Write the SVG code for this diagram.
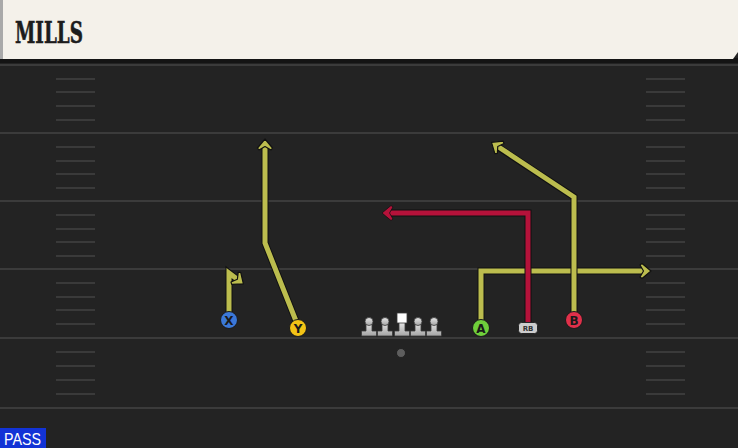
<svg xmlns="http://www.w3.org/2000/svg" width="738" height="448" viewBox="0 0 738 448">
<style>
.yl{stroke:#3b3b3b;stroke-width:2}
.hm{stroke:#3a3a3a;stroke-width:2}
.out{fill:none;stroke:#111;stroke-width:7;stroke-linejoin:miter}
.ry{fill:none;stroke:#bcbd4e;stroke-width:5;stroke-linejoin:miter}
.rr{fill:none;stroke:#b5123a;stroke-width:5;stroke-linejoin:miter}
.lbl{font-family:"DejaVu Sans","Liberation Sans",sans-serif;font-weight:bold;font-size:12px;fill:#1a1a1a;text-anchor:middle}
.pc{stroke:#1a1a1a;stroke-width:1}
.ol{stroke:#3a3a3a;stroke-width:0.8}
</style>
<defs>
<marker id="ay" markerUnits="userSpaceOnUse" markerWidth="24" markerHeight="24" viewBox="-12 -12 24 24" refX="0" refY="0" orient="auto">
<path d="M3,0 L-6,-7.5 L-8,-6 L-4.5,0 L-8,6 L-6,7.5 Z" fill="#bcbd4e" stroke="#111" stroke-width="1.2" stroke-linejoin="round"/>
</marker>
<marker id="ar" markerUnits="userSpaceOnUse" markerWidth="24" markerHeight="24" viewBox="-12 -12 24 24" refX="0" refY="0" orient="auto">
<path d="M3,0 L-6,-7.5 L-8,-6 L-4.5,0 L-8,6 L-6,7.5 Z" fill="#b5123a" stroke="#111" stroke-width="0.8" stroke-linejoin="round"/>
</marker>
<linearGradient id="lg" x1="0" y1="0" x2="0" y2="1">
<stop offset="0" stop-color="#e8e8e8"/><stop offset="1" stop-color="#a4a4a4"/>
</linearGradient>
</defs>
<rect x="0" y="0" width="738" height="448" fill="#232323"/>
<g id="field">
<line class="yl" x1="0" y1="65" x2="738" y2="65"/>
<line class="yl" x1="0" y1="133" x2="738" y2="133"/>
<line class="yl" x1="0" y1="201" x2="738" y2="201"/>
<line class="yl" x1="0" y1="269" x2="738" y2="269"/>
<line class="yl" x1="0" y1="338" x2="738" y2="338"/>
<line class="yl" x1="0" y1="408" x2="738" y2="408"/>
<path class="hm" d="M56,79H95M56,92H95M56,106H95M56,120H95M56,147H95M56,161H95M56,174H95M56,188H95M56,215H95M56,229H95M56,242H95M56,256H95M56,283H95M56,297H95M56,310H95M56,324H95M56,352H95M56,366H95M56,380H95M56,394H95"/>
<path class="hm" d="M646,79H685M646,92H685M646,106H685M646,120H685M646,147H685M646,161H685M646,174H685M646,188H685M646,215H685M646,229H685M646,242H685M646,256H685M646,283H685M646,297H685M646,310H685M646,324H685M646,352H685M646,366H685M646,380H685M646,394H685"/>
</g>
<g id="header">
<rect x="0" y="58" width="738" height="5" fill="#141414"/>
<path d="M0,0 H738 V52 L733,59 H0 Z" fill="#f4f1ea"/>
<rect x="0" y="0" width="3" height="59" fill="#a9a9a9"/>
<text x="15" y="43" font-family="'DejaVu Serif','Liberation Serif',serif" font-weight="bold" font-size="29" fill="#1c1c1c" stroke="#1c1c1c" stroke-width="0.6" textLength="68" lengthAdjust="spacingAndGlyphs">MILLS</text>
</g>
<g id="routes">
<path class="out" d="M229,312 V273 L238,280"/>
<path class="ry" d="M229,312 V273 L241,282" marker-end="url(#ay)"/>
<path class="out" d="M296,321 L265,243 V147"/>
<path class="ry" d="M296,321 L265,243 V142" marker-end="url(#ay)"/>
<path class="out" d="M481,321 V271 H643"/>
<path class="ry" d="M481,321 V271 H648" marker-end="url(#ay)"/>
<path class="out" d="M574,312 V197 L498,147"/>
<path class="ry" d="M574,312 V197 L494,144" marker-end="url(#ay)"/>
<path class="out" d="M528,322 V213 H390"/>
<path class="rr" d="M528,322 V213 H385" marker-end="url(#ar)"/>
</g>
<g id="X"><circle class="pc" cx="229" cy="320" r="8.5" fill="#3b78d8"/><text class="lbl" x="229" y="324.5">X</text></g>
<g id="Y"><circle class="pc" cx="298" cy="328" r="8.5" fill="#f3c316"/><text class="lbl" x="298" y="332.5">Y</text></g>
<g id="A"><circle class="pc" cx="481" cy="328" r="8.5" fill="#6fcf3b"/><text class="lbl" x="481" y="332.5">A</text></g>
<g id="B"><circle class="pc" cx="574" cy="320" r="8.5" fill="#e0304a"/><text class="lbl" x="574" y="324.5">B</text></g>
<g id="RB"><rect x="518.5" y="322.5" width="19" height="11" rx="3" fill="#cdcdcd" stroke="#111" stroke-width="0.8"/><text x="528" y="331" font-family="'DejaVu Sans','Liberation Sans',sans-serif" font-size="7" font-weight="bold" fill="#333" text-anchor="middle">RB</text></g>
<g id="OL1"><path class="ol" d="M366,322 h6 v9 h4.5 v5 h-15 v-5 h4.5 z" fill="url(#lg)"/><circle cx="369" cy="321.5" r="4" fill="url(#lg)" stroke="#3a3a3a" stroke-width="0.8"/></g>
<g id="OL2"><path class="ol" d="M382,322 h6 v9 h4.5 v5 h-15 v-5 h4.5 z" fill="url(#lg)"/><circle cx="385" cy="321.5" r="4" fill="url(#lg)" stroke="#3a3a3a" stroke-width="0.8"/></g>
<g id="C"><path class="ol" d="M399,322 h6 v9 h4.5 v5 h-15 v-5 h4.5 z" fill="url(#lg)"/><rect x="397" y="313" width="10" height="10" fill="#ffffff" stroke="#3a3a3a" stroke-width="0.8"/></g>
<g id="OL4"><path class="ol" d="M415,322 h6 v9 h4.5 v5 h-15 v-5 h4.5 z" fill="url(#lg)"/><circle cx="418" cy="321.5" r="4" fill="url(#lg)" stroke="#3a3a3a" stroke-width="0.8"/></g>
<g id="OL5"><path class="ol" d="M431,322 h6 v9 h4.5 v5 h-15 v-5 h4.5 z" fill="url(#lg)"/><circle cx="434" cy="321.5" r="4" fill="url(#lg)" stroke="#3a3a3a" stroke-width="0.8"/></g>
<g id="ball"><circle cx="401" cy="353" r="4.5" fill="#5e5e5e" stroke="#1a1a1a" stroke-width="0.8"/></g>
<g id="pass">
<rect x="0" y="428" width="46" height="20" fill="#1233d6"/>
<text x="4" y="445" font-family="'Liberation Sans',Arial,sans-serif" font-size="17" fill="#ffffff" textLength="37" lengthAdjust="spacingAndGlyphs">PASS</text>
</g>
</svg>
